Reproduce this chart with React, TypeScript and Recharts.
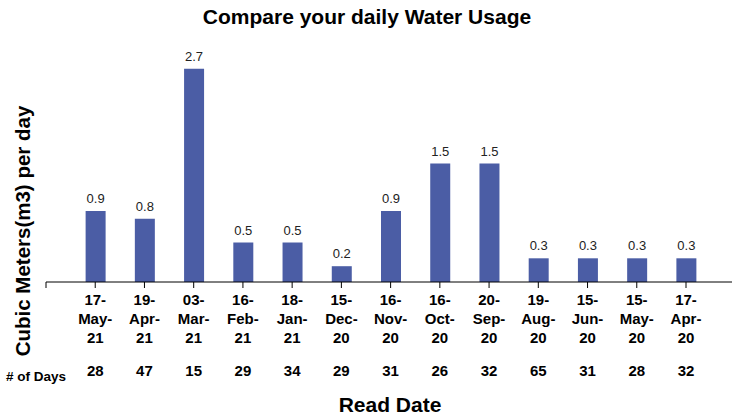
import React from "react";
import { BarChart, Bar, XAxis, YAxis, LabelList } from "recharts";

const readDates = [
  "17-May-21", "19-Apr-21", "03-Mar-21", "16-Feb-21", "18-Jan-21", "15-Dec-20", "16-Nov-20",
  "16-Oct-20", "20-Sep-20", "19-Aug-20", "15-Jun-20", "15-May-20", "17-Apr-20",
];
const usage = [0.9, 0.8, 2.7, 0.5, 0.5, 0.2, 0.9, 1.5, 1.5, 0.3, 0.3, 0.3, 0.3];
const days = [28, 47, 15, 29, 34, 29, 31, 26, 32, 65, 31, 28, 32];

const data = readDates.map((d, i) => ({ date: d, usage: usage[i], days: days[i] }));

const FONT = "'Liberation Sans', Arial, sans-serif";
const BAND = 640 / 13;

const DateTick = (props: any) => {
  const { x, y, payload, index } = props;
  const parts = String(payload.value).split("-");
  const lines = parts.map((p: string, i: number) => (i < parts.length - 1 ? p + "-" : p));
  return (
    <g>
      <line x1={x} y1={y} x2={x} y2={y + 6} stroke="#000" />
      {index === 0 && <line x1={x - BAND} y1={y} x2={x - BAND} y2={y + 6} stroke="#000" />}
      <text textAnchor="middle" fontFamily={FONT} fontSize={15} fontWeight="bold" fill="#000">
        {lines.map((l: string, i: number) => (
          <tspan key={i} x={x} y={y + 23 + i * 19}>
            {l}
          </tspan>
        ))}
        <tspan x={x} y={y + 94}>
          {days[index]}
        </tspan>
      </text>
    </g>
  );
};

export default function App() {
  return (
    <div style={{ position: "absolute", left: 0, top: 0, width: 732, height: 417, background: "#fff" }}>
      <BarChart width={732} height={417} data={data} margin={{ top: 45, right: 0, left: 46, bottom: 0 }}>
        <YAxis hide domain={[0, 3]} />
        <XAxis
          dataKey="date"
          height={135}
          interval={0}
          tickSize={0}
          tickMargin={0}
          tickLine={false}
          axisLine={{ stroke: "#000", strokeWidth: 1 }}
          padding={{ left: BAND / 2, right: 732 - 46 - BAND / 2 - 640 }}
          tick={<DateTick />}
        />
        <Bar dataKey="usage" fill="#4B5DA5" barSize={20} isAnimationActive={false}>
          <LabelList
            dataKey="usage"
            position="top"
            offset={8}
            fontFamily={FONT}
            fontSize={13}
            fill="#222"
          />
        </Bar>
      </BarChart>
      <div style={{ position: "absolute", left: 0, top: 5, width: 734, textAlign: "center", fontFamily: FONT, fontWeight: "bold", fontSize: 21, lineHeight: "24px" }}>
        Compare your daily Water Usage
      </div>
      <div
        style={{
          position: "absolute", left: 23, top: 231, transform: "translate(-50%, -50%) rotate(-90deg)",
          whiteSpace: "nowrap", fontFamily: FONT, fontWeight: "bold", fontSize: 20.5, lineHeight: "24px",
        }}
      >
        Cubic Meters(m3) per day
      </div>
      <div style={{ position: "absolute", left: 6, top: 369, fontFamily: FONT, fontWeight: "bold", fontSize: 13.5 }}>
        # of Days
      </div>
      <div style={{ position: "absolute", left: 0, top: 393, width: 780, textAlign: "center", fontFamily: FONT, fontWeight: "bold", fontSize: 21, lineHeight: "24px" }}>
        Read Date
      </div>
    </div>
  );
}
